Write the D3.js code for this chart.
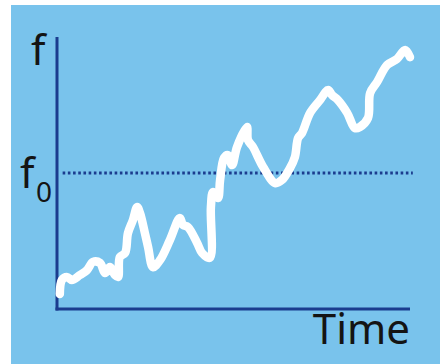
<!DOCTYPE html>
<html lang="en">
  <head>
    <meta charset="utf-8">
    <title>f over time</title>
    <script src="https://cdn.jsdelivr.net/npm/d3@7"></script>
    <style>
      body { margin: 0; background: #fff; }
      svg { display: block; }
    </style>
  </head>
  <body>
    <script>
      // values (time 0..100, f 0..100)
      var times = [0.8, 1.4, 2.8, 4.2, 6.5, 8.5, 10.2, 12.2, 13.6, 15, 16.4, 17.3, 17.8, 19.3,
                   20.1, 21.5, 22.7, 23.5, 24.9, 25.8, 27.2, 29.2, 32, 34.8, 35.7, 37.1, 39.7,
                   41.1, 43.3, 43.6, 44.2, 45.6, 46.2, 47.3, 48.4, 49.6, 51, 53.8, 54.1, 55.5,
                   58.4, 61.8, 63.7, 66, 67.4, 68.3, 69.4, 71.7, 74.5, 76.8, 77.9, 79.6, 82.2,
                   84.4, 85.8, 88.1, 88.7, 90.7, 93.5, 96.3, 98.6, 100];
      var fValues = [5.5, 10.7, 11.8, 10.7, 12.5, 14.3, 17.3, 16.9, 13.2, 15.4, 12.5, 11.8, 19.1,
                     20.6, 27.9, 32.7, 37.5, 35.3, 27.9, 22.8, 15.4, 18, 25.4, 33.5, 30.9, 30.1,
                     24.3, 20.6, 18.8, 37.5, 43, 40.8, 47.4, 55.5, 56.6, 52.9, 59.6, 66.9, 62.1,
                     59.6, 52.2, 46.3, 47.4, 51.8, 55.9, 62.9, 64.7, 72.1, 76.8, 80.5, 78.7, 76.8,
                     72.1, 66.5, 66.9, 70.2, 79.4, 83.5, 89.7, 91.9, 95.2, 92.6];
      var f0 = 50;
      var yLabel = "f";
      var refLabel = "f";
      var refSub = "0";
      var xLabel = "Time";

      var w = 440, h = 364;
      var navy = "#1b3c8e";

      var svg = d3.select("body").append("svg")
                  .attr("width", w)
                  .attr("height", h);

      svg.append("rect")
         .attr("x", 11).attr("y", 5)
         .attr("width", w - 11).attr("height", h - 5)
         .attr("fill", "#79c3ec");

      var xScale = d3.scaleLinear().domain([0, 100]).range([57, 410]);
      var yScale = d3.scaleLinear().domain([0, 100]).range([309, 37]);

      // dotted reference line at f0
      svg.append("line")
         .attr("x1", xScale(1.6)).attr("x2", xScale(100.8))
         .attr("y1", yScale(f0)).attr("y2", yScale(f0))
         .attr("stroke", navy)
         .attr("stroke-width", 3)
         .attr("stroke-dasharray", "2.6 2.6");

      // axes (no ticks)
      svg.append("line")
         .attr("x1", xScale(0)).attr("x2", xScale(0))
         .attr("y1", yScale(100)).attr("y2", yScale(0) + 1.5)
         .attr("stroke", navy).attr("stroke-width", 3);
      svg.append("line")
         .attr("x1", xScale(0) - 1.5).attr("x2", xScale(100))
         .attr("y1", yScale(0)).attr("y2", yScale(0))
         .attr("stroke", navy).attr("stroke-width", 3);

      var data = times.map(function (t, i) { return { t: t, v: fValues[i] }; });

      var line = d3.line()
                   .x(function (d) { return xScale(d.t); })
                   .y(function (d) { return yScale(d.v); })
                   .curve(d3.curveCatmullRom.alpha(0.5));

      svg.append("path")
         .datum(data)
         .attr("d", line)
         .attr("fill", "none")
         .attr("stroke", "#fff")
         .attr("stroke-width", 8.5)
         .attr("stroke-linejoin", "round")
         .attr("stroke-linecap", "round");

      // labels
      var font = "'Noto Sans', 'Open Sans', sans-serif";
      svg.append("text")
         .attr("x", 31).attr("y", 65)
         .attr("font-family", font).attr("font-size", 42)
         .attr("fill", "#141414")
         .text(yLabel);

      var ref = svg.append("text")
         .attr("x", 20).attr("y", 188)
         .attr("font-family", font).attr("font-size", 42)
         .attr("fill", "#141414");
      ref.append("tspan").text(refLabel);
      ref.append("tspan")
         .attr("x", 36).attr("y", 202)
         .attr("font-size", 28)
         .text(refSub);

      svg.append("text")
         .attr("x", xScale(100)).attr("y", 344)
         .attr("text-anchor", "end")
         .attr("font-family", font).attr("font-size", 42)
         .attr("fill", "#141414")
         .text(xLabel);
    </script>
  </body>
</html>
